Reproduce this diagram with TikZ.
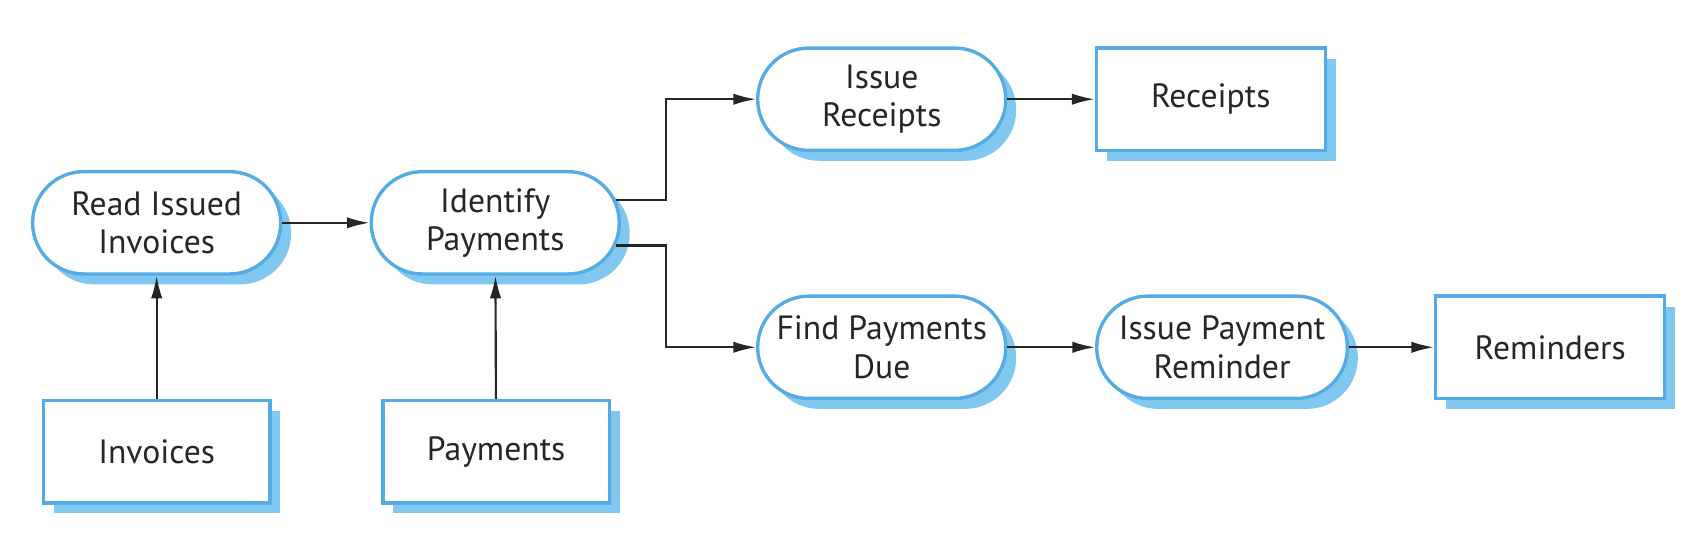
\documentclass[tikz,border=0pt]{standalone}
\usepackage{fontspec}
\setmainfont{PT Sans}
\usepackage{tikz}
\usetikzlibrary{arrows.meta}
\usetikzlibrary{shadows}
\definecolor{edgeblue}{HTML}{55ABE4}
\definecolor{shadeblue}{HTML}{80C8F0}
\definecolor{ink}{HTML}{262626}
\tikzset{base/.style = {draw = edgeblue, line width = 1.1pt, fill = white, text = ink,
    align = center, font = \fontsize{11}{12.6}\selectfont, minimum height = 1.175cm,
    inner xsep = 1pt, rectangle,
    drop shadow = {shadow xshift = 1.2mm, shadow yshift = -1.2mm, fill = shadeblue, opacity = 1}}}
\tikzset{proc/.style = {base, rounded corners = 5.85mm, minimum width = 2.85cm}}
\tikzset{store/.style = {base, minimum width = 2.6cm}}
\tikzset{flow/.style = {draw = ink, line width = 0.7pt, -{Latex[length = 2.6mm, width = 1.3mm]}}}

\begin{document}
\begin{tikzpicture}
    \useasboundingbox (0, 0) rectangle (19.6, -6.36);
    \node [proc] (read) at (1.8, -2.56) {Read Issued\\Invoices};
    \node [proc] (ident) at (5.69, -2.56) {Identify\\Payments};
    \node [proc] (issue) at (10.13, -1.14) {Issue\\Receipts};
    \node [proc] (due) at (10.13, -3.99) {Find Payments\\Due};
    \node [proc, minimum width = 2.88cm] (remind) at (14.04, -3.99) {Issue Payment\\Reminder};
    \node [store] (inv) at (1.8, -5.19) {Invoices};
    \node [store] (pay) at (5.7, -5.19) {Payments};
    \node [store, minimum width = 2.63cm] (rcpt) at (13.91, -1.14) {Receipts};
    \node [store, minimum width = 2.63cm] (rmd) at (17.81, -3.99) {Reminders};
    \coordinate (split) at (7.65, -2.56);
    \draw [flow] (inv) -- (read);
    \draw [flow] (pay) -- (ident);
    \draw [flow] (read) -- (ident);
    \draw [flow] ([xshift = -0.6mm, yshift = 2.6mm]ident.east) -- ([yshift = 2.6mm]ident.east -| split) |- (issue.west);
    \draw [flow] ([xshift = -0.6mm, yshift = -2.6mm]ident.east) -- ([yshift = -2.6mm]ident.east -| split) |- (due.west);
    \draw [flow] (issue) -- (rcpt);
    \draw [flow] (due) -- (remind);
    \draw [flow] (remind) -- (rmd);
  \end{tikzpicture}
\end{document}
